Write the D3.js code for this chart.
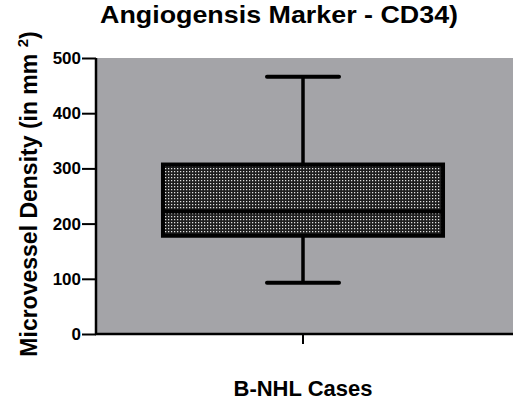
<!DOCTYPE html>
<html>
<head>
<meta charset="utf-8">
<script src="https://cdn.jsdelivr.net/npm/d3@7"></script>
<style>
  body { margin: 0; background: #fff; }
  text { font-family: Arial, "Liberation Sans", sans-serif; font-weight: bold; fill: #000; }
</style>
</head>
<body>
<div id="chart"></div>
<script>
// chart values
const categories = ["B-NHL Cases"];
const whiskerLow = [93];
const q1 = [178];
const median = [222];
const q3 = [307];
const whiskerHigh = [466];
const yTicks = [0, 100, 200, 300, 400, 500];

const width = 520, height = 401;
const plotLeft = 96, plotRight = 513, plotTop = 58, plotBottom = 334;

const svg = d3.select("#chart").append("svg")
    .attr("width", width)
    .attr("height", height);

// dotted fill for the box
const defs = svg.append("defs");
const pat = defs.append("pattern")
    .attr("id", "dots")
    .attr("width", 3)
    .attr("height", 3)
    .attr("patternUnits", "userSpaceOnUse");
pat.append("rect").attr("width", 3).attr("height", 3).attr("fill", "#1e1e1e");
pat.append("rect").attr("width", 1.25).attr("height", 1.25).attr("fill", "#e0e0e0");

const y = d3.scaleLinear().domain([0, 500]).range([plotBottom, plotTop]);
const x = d3.scaleBand().domain(categories).range([plotLeft, 510]).padding(0.193);

// plot background
svg.append("rect")
    .attr("x", plotLeft)
    .attr("y", y(500))
    .attr("width", plotRight - plotLeft)
    .attr("height", y(0) - y(500))
    .attr("fill", "#a4a4a8");

// axes
const yAxis = svg.append("g")
    .attr("transform", "translate(" + plotLeft + ",0)")
    .call(d3.axisLeft(y).tickValues(yTicks).tickSize(14).tickPadding(1));
yAxis.select(".domain").remove();
yAxis.selectAll(".tick line").attr("stroke", "#000").attr("stroke-width", 2);
yAxis.selectAll(".tick text")
    .style("font-size", "17px")
    .style("font-family", "Arial, 'Liberation Sans', sans-serif")
    .style("font-weight", "bold");

svg.append("line")
    .attr("x1", plotLeft).attr("x2", plotLeft)
    .attr("y1", y(500)).attr("y2", y(0) + 1)
    .attr("stroke", "#000").attr("stroke-width", 2.5);

const xAxis = svg.append("g")
    .attr("transform", "translate(0," + plotBottom + ")")
    .call(d3.axisBottom(x).tickSize(10).tickFormat(""));
xAxis.select(".domain").remove();
xAxis.selectAll(".tick line").attr("stroke", "#000").attr("stroke-width", 2);

svg.append("line")
    .attr("x1", plotLeft - 1).attr("x2", plotRight)
    .attr("y1", plotBottom).attr("y2", plotBottom)
    .attr("stroke", "#000").attr("stroke-width", 2.5);

// box plot
const g = svg.append("g");
categories.forEach(function(c, i) {
    const cx = x(c) + x.bandwidth() / 2;
    const bw = x.bandwidth();
    const capW = 72;

    g.append("line")
        .attr("x1", cx).attr("x2", cx)
        .attr("y1", y(whiskerHigh[i])).attr("y2", y(q3[i]))
        .attr("stroke", "#000").attr("stroke-width", 3.5);
    g.append("line")
        .attr("x1", cx).attr("x2", cx)
        .attr("y1", y(q1[i])).attr("y2", y(whiskerLow[i]))
        .attr("stroke", "#000").attr("stroke-width", 3.5);
    [whiskerHigh[i], whiskerLow[i]].forEach(function(v) {
        g.append("line")
            .attr("x1", cx - capW / 2).attr("x2", cx + capW / 2)
            .attr("y1", y(v)).attr("y2", y(v))
            .attr("stroke", "#000").attr("stroke-width", 4)
            .attr("stroke-linecap", "round");
    });

    g.append("rect")
        .attr("x", x(c))
        .attr("y", y(q3[i]))
        .attr("width", bw)
        .attr("height", y(q1[i]) - y(q3[i]))
        .attr("fill", "url(#dots)")
        .attr("stroke", "#000")
        .attr("stroke-width", 4);
    g.append("line")
        .attr("x1", x(c)).attr("x2", x(c) + bw)
        .attr("y1", y(median[i])).attr("y2", y(median[i]))
        .attr("stroke", "#000").attr("stroke-width", 4);
});

// titles
svg.append("text")
    .attr("x", 279)
    .attr("y", 23)
    .attr("text-anchor", "middle")
    .attr("textLength", 358)
    .attr("lengthAdjust", "spacingAndGlyphs")
    .style("font-size", "24px")
    .text("Angiogensis Marker - CD34)");

svg.append("text")
    .attr("x", 303)
    .attr("y", 396)
    .attr("text-anchor", "middle")
    .style("font-size", "22px")
    .text("B-NHL Cases");

const yl = svg.append("text")
    .attr("transform", "translate(37,194) rotate(-90)")
    .attr("text-anchor", "middle")
    .style("font-size", "23px");
yl.append("tspan").text("Microvessel Density (in mm ");
yl.append("tspan").attr("dy", -9).style("font-size", "15px").text("2");
yl.append("tspan").attr("dy", 9).text(")");
</script>
</body>
</html>
